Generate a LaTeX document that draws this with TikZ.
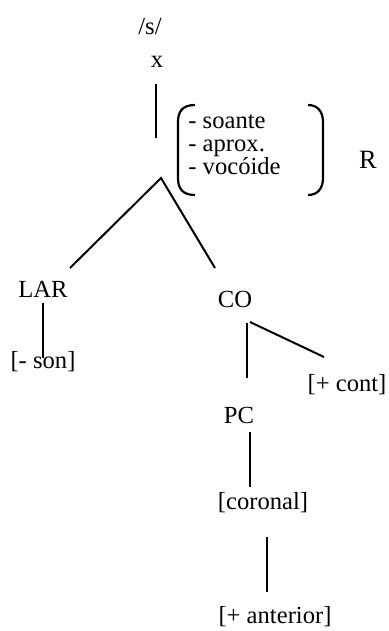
\documentclass[tikz,border=0pt]{standalone}
\usepackage{fontspec}
\setmainfont{Liberation Serif}
\begin{document}
\begin{tikzpicture}[x=0.5pt,y=-0.5pt,
  lbl/.style={inner sep=0pt,anchor=base,font=\fontsize{12.3}{14}\selectfont},
  feat/.style={inner sep=0pt,anchor=base west,font=\fontsize{12.3}{14}\selectfont},
  ln/.style={line width=1pt,line cap=butt},
  par/.style={line width=1.1pt}]
\useasboundingbox (0,0) rectangle (388,631);
% texts
\node[lbl] (s) at (150,35) {/s/};
\node[lbl] (x) at (157,68) {x};
\node[feat] (f1) at (188,128) {- soante};
\node[feat] (f2) at (188,151) {- aprox.};
\node[feat] (f3) at (188,174) {- vocóide};
\node[lbl,font=\fontsize{13.2}{15}\selectfont] (R) at (368,168) {R};
\node[lbl] (LAR) at (43,297) {LAR};
\node[lbl] (CO) at (235,307) {CO};
\node[lbl] (son) at (43,368) {[- son]};
\node[lbl] (cont) at (347,391) {[+ cont]};
\node[lbl] (PC) at (239,423) {PC};
\node[lbl] (cor) at (263,509) {[coronal]};
\node[lbl] (ant) at (275,623) {[+ anterior]};
% connector end points
\coordinate (xa) at (155.7,84);
\coordinate (xb) at (155.7,138);
\coordinate (apex) at (161,178);
\coordinate (larT) at (70,268);
\coordinate (coT) at (215,268);
\coordinate (larA) at (42.5,303);
\coordinate (larB) at (42.5,358);
\coordinate (coA) at (246.5,323);
\coordinate (coB) at (246.5,378);
\coordinate (coC) at (250,322);
\coordinate (coD) at (324,357);
\coordinate (pcA) at (250,432);
\coordinate (pcB) at (250,487);
\coordinate (crA) at (267,537);
\coordinate (crB) at (267,592);
% lines
\draw[ln] (xa) -- (xb);
\draw[ln] (larT) -- (apex) -- (coT);
\draw[ln] (larA) -- (larB);
\draw[ln] (coA) -- (coB);
\draw[ln] (coC) -- (coD);
\draw[ln] (pcA) -- (pcB);
\draw[ln] (crA) -- (crB);
% parentheses
\coordinate (lpT) at (195,105);
\coordinate (lpB) at (195,195);
\coordinate (rpT) at (308,105);
\coordinate (rpB) at (308,195);
\draw[par] (lpT) .. controls (182,105) and (178,112) .. (178,122) -- (178,178) .. controls (178,188) and (182,195) .. (lpB);
\draw[par] (rpT) .. controls (318,105) and (323,112) .. (323,122) -- (323,178) .. controls (323,188) and (318,195) .. (rpB);
\end{tikzpicture}
\end{document}
